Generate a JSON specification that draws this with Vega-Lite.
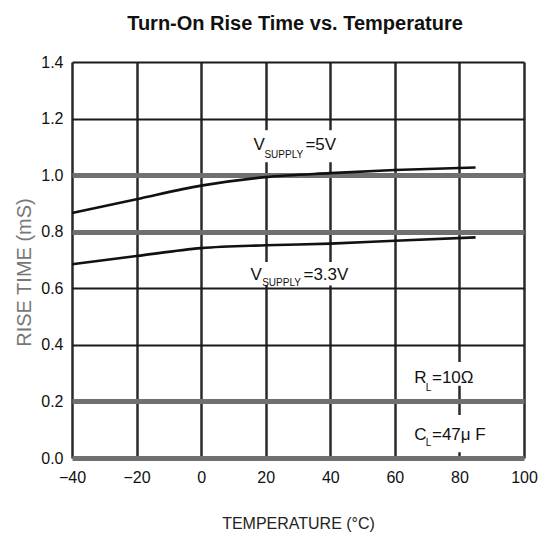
{
  "$schema": "https://vega.github.io/schema/vega-lite/v6.json",
  "width": 452,
  "height": 396,
  "autosize": "none",
  "padding": {"left": 72, "top": 62, "right": 21, "bottom": 77},
  "background": "white",
  "config": {
    "view": {"stroke": null},
    "font": "Liberation Sans",
    "text": {"font": "Liberation Sans"}
  },
  "title": {
    "text": "Turn-On Rise Time vs. Temperature",
    "font": "Liberation Sans",
    "fontSize": 20,
    "fontWeight": "bold",
    "color": "#111",
    "baseline": "bottom",
    "offset": 0,
    "dx": -3
  },
  "datasets": {
    "curves": [
      {"series": "5V", "x": -40, "y": 0.866},
      {"series": "5V", "x": -20, "y": 0.915},
      {"series": "5V", "x": 0, "y": 0.963},
      {"series": "5V", "x": 20, "y": 0.993},
      {"series": "5V", "x": 40, "y": 1.007},
      {"series": "5V", "x": 60, "y": 1.018},
      {"series": "5V", "x": 85, "y": 1.027},
      {"series": "3.3V", "x": -40, "y": 0.685},
      {"series": "3.3V", "x": -20, "y": 0.714},
      {"series": "3.3V", "x": 0, "y": 0.742},
      {"series": "3.3V", "x": 20, "y": 0.752},
      {"series": "3.3V", "x": 40, "y": 0.758},
      {"series": "3.3V", "x": 60, "y": 0.768},
      {"series": "3.3V", "x": 85, "y": 0.78}
    ],
    "boxes": [
      {"label": "5V", "x": 15.3, "x2": 43.2, "y": 1.046, "y2": 1.159},
      {"label": "3.3V", "x": 15.3, "x2": 46.3, "y": 0.61, "y2": 0.693},
      {"label": "RL", "x": 64.9, "x2": 87.3, "y": 0.255, "y2": 0.339},
      {"label": "CL", "x": 65, "x2": 91.3, "y": 0.02, "y2": 0.152}
    ],
    "labels": [
      {"x": 16.2, "y": 1.089, "text": "V"},
      {"x": 32.3, "y": 1.089, "text": "=5V"},
      {"x": 15.3, "y": 0.629, "text": "V"},
      {"x": 31.7, "y": 0.629, "text": "=3.3V"},
      {"x": 66.0, "y": 0.265, "text": "R"},
      {"x": 71.5, "y": 0.265, "text": "=10Ω"},
      {"x": 66.0, "y": 0.064, "text": "C"},
      {"x": 71.5, "y": 0.064, "text": "=47μ  F"}
    ],
    "subscripts": [
      {"x": 19.6, "y": 1.06, "text": "SUPPLY"},
      {"x": 18.9, "y": 0.608, "text": "SUPPLY"},
      {"x": 69.6, "y": 0.236, "text": "L"},
      {"x": 69.6, "y": 0.042, "text": "L"}
    ]
  },
  "encoding": {
    "x": {
      "field": "x",
      "type": "quantitative",
      "scale": {"domain": [-40, 100], "nice": false, "zero": false},
      "axis": {
        "title": "TEMPERATURE (°C)",
        "values": [-40, -20, 0, 20, 40, 60, 80, 100],
        "format": "d",
        "grid": true,
        "gridColor": "#2a2a2a",
        "gridWidth": 2.5,
        "gridOpacity": 1,
        "domain": false,
        "ticks": false,
        "labelPadding": 11,
        "labelFont": "Liberation Sans",
        "labelFontSize": 16,
        "labelColor": "#111",
        "labelFlush": false,
        "titleFont": "Liberation Sans",
        "titleFontSize": 16,
        "titleFontWeight": "normal",
        "titleColor": "#222",
        "titlePadding": 30
      }
    },
    "y": {
      "field": "y",
      "type": "quantitative",
      "scale": {"domain": [0, 1.4], "nice": false},
      "axis": {
        "title": "RISE TIME (mS)",
        "values": [0, 0.2, 0.4, 0.6, 0.8, 1.0, 1.2, 1.4],
        "format": ".1f",
        "grid": true,
        "gridColor": {"condition": {"test": "datum.value < 0.01 || abs(datum.value - 0.2) < 0.01 || abs(datum.value - 0.8) < 0.01 || abs(datum.value - 1) < 0.01", "value": "#707070"}, "value": "#1a1a1a"},
        "gridWidth": {"condition": {"test": "datum.value < 0.01 || abs(datum.value - 0.2) < 0.01 || abs(datum.value - 0.8) < 0.01 || abs(datum.value - 1) < 0.01", "value": 5}, "value": 2},
        "gridOpacity": 1,
        "domain": false,
        "ticks": false,
        "labelPadding": 9,
        "labelFont": "Liberation Sans",
        "labelFontSize": 16,
        "labelColor": "#111",
        "labelFlush": false,
        "titleFont": "Liberation Sans",
        "titleFontSize": 20,
        "titleFontWeight": "normal",
        "titleColor": "#777",
        "titlePadding": 6,
        "titleY": 210
      }
    }
  },
  "layer": [
    {
      "data": {"name": "boxes"},
      "mark": {"type": "rect", "fill": "white", "stroke": null},
      "encoding": {"x2": {"field": "x2"}, "y2": {"field": "y2"}}
    },
    {
      "data": {"name": "curves"},
      "mark": {"type": "line", "color": "#111", "strokeWidth": 2.6, "interpolate": "monotone"},
      "encoding": {"detail": {"field": "series", "type": "nominal"}}
    },
    {
      "data": {"name": "labels"},
      "mark": {"type": "text", "align": "left", "baseline": "alphabetic", "fontSize": 17, "font": "Liberation Sans", "color": "#111"},
      "encoding": {"text": {"field": "text"}}
    },
    {
      "data": {"name": "subscripts"},
      "mark": {"type": "text", "align": "left", "baseline": "alphabetic", "fontSize": 10, "font": "Liberation Sans", "color": "#111"},
      "encoding": {"text": {"field": "text"}}
    }
  ]
}
